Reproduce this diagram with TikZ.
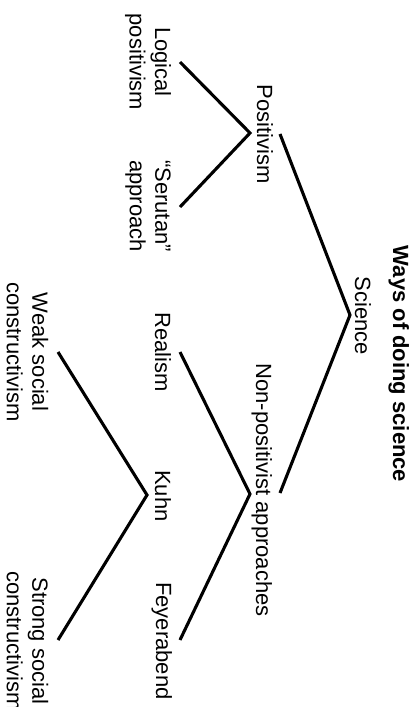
\documentclass[tikz,border=0pt]{standalone}
\usepackage{fontspec}
\setmainfont{Liberation Sans}
\begin{document}
\begin{tikzpicture}[x=1pt,y=-1pt,
  lbl/.style={rotate=-90,inner sep=0pt,font=\fontsize{22}{25.5}\selectfont},
  one/.style={lbl,anchor=base},
  two/.style={lbl,anchor=center,align=center},
  branch/.style={line width=3.1pt,black}]
\useasboundingbox (0,0) rectangle (415,707);
\fill[white] (0,0) rectangle (415,707);
% labels
\node[one,font=\fontsize{22}{25.5}\selectfont\bfseries] (title) at (393,364) {Ways of doing science};
\node[one] (science) at (355,316) {Science};
\node[one] (positivism) at (257,134) {Positivism};
\node[one] (nonpos) at (256,490) {Non-positivist approaches};
\node[two] (logical) at (148,62) {Logical\\positivism};
\node[two] (serutan) at (148,206) {“Serutan”\\approach};
\node[one] (realism) at (155,352) {Realism};
\node[one] (kuhn) at (155,496) {Kuhn};
\node[one] (feyer) at (156,641) {Feyerabend};
\node[two] (weak) at (27.5,352) {Weak social\\constructivism};
\node[two] (strong) at (27.5,641) {Strong social\\constructivism};
% branch points
\coordinate (v0) at (350,315);
\coordinate (v0a) at (280,134);
\coordinate (v0b) at (280,493);
\coordinate (v1) at (250,133);
\coordinate (v1a) at (180,62);
\coordinate (v1b) at (180,207);
\coordinate (v2) at (250,494);
\coordinate (v2a) at (180,352);
\coordinate (v2b) at (180,640);
\coordinate (v3) at (147,495);
\coordinate (v3a) at (58,352);
\coordinate (v3b) at (58,640);
\draw[branch] (v0a) -- (v0) -- (v0b);
\draw[branch] (v1a) -- (v1) -- (v1b);
\draw[branch] (v2a) -- (v2) -- (v2b);
\draw[branch] (v3a) -- (v3) -- (v3b);
\end{tikzpicture}
\end{document}
